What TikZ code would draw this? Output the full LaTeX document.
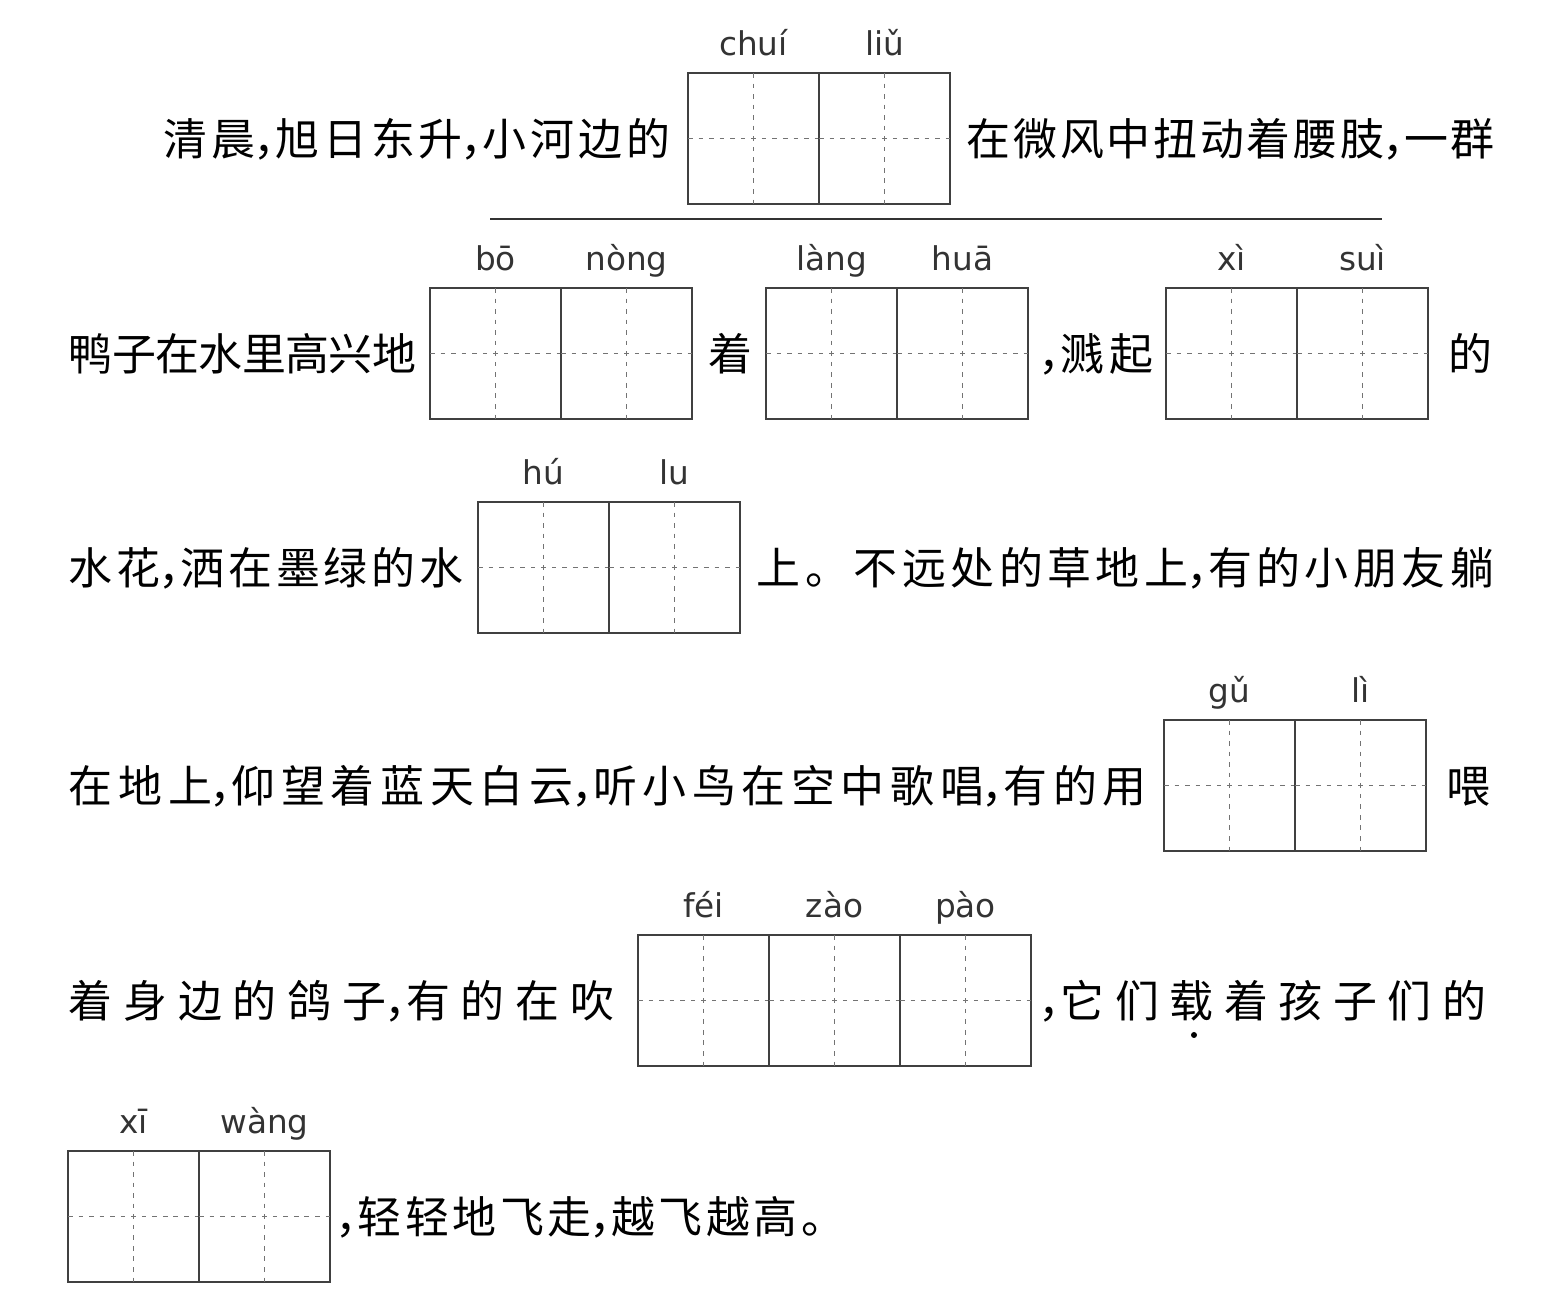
\documentclass[tikz,border=0pt]{standalone}
\usepackage{fontspec}
\newfontfamily\cjk{Noto Sans CJK SC}
\newfontfamily\pyfont{DejaVu Sans}
\newcommand\dou{\kern-.05em，\kern-.5em}
\begin{document}
\begin{tikzpicture}[x=0.01cm,y=-0.01cm,line width=0.5pt,
	hz/.style={font=\cjk\fontsize{12.5pt}{15pt}\selectfont\addfontfeature{LetterSpace=#1},inner sep=0pt,anchor=base west},
	hz/.default=0,
	py/.style={font=\pyfont\fontsize{9.3pt}{11pt}\selectfont,text=black!80,inner sep=0pt,anchor=base},
	frame/.style={draw=black!75,line width=0.5pt},
	guide/.style={draw=black!55,line width=0.4pt,dash pattern=on 1.3pt off 1.7pt}]
	\useasboundingbox (0,0) rectangle (1553,1298);
	\foreach \bx/\by/\syl [count=\b] in {688/73/{chuí,liǔ},430/288/{bō,nòng},766/288/{làng,huā},1166/288/{xì,suì},478/502/{hú,lu},1164/720/{gǔ,lì},638/935/{féi,zào,pào},68/1151/{xī,wàng}}{
		\foreach \s [count=\k] in \syl {
			\draw[frame] ({\bx+(\k-1)*131},\by) rectangle ++(131,131);
			\draw[guide] ({\bx+(\k-1)*131+65.5},\by) -- ++(0,131);
			\draw[guide] ({\bx+(\k-1)*131},{\by+65.5}) -- ++(131,0);
			\node[py] (p\b-\k) at ({\bx+(\k-1)*131+65.5},{\by-17}) {\s};
		}
	}
	\node[hz=8.8] (r1a) at (163,156) {清晨\dou 旭日东升\dou 小河边的};
	\node[hz=6.2] (r1b) at (966,156) {在微风中扭动着腰肢\dou 一群};
	\draw[black!80,line width=0.5pt] (490,219) -- (1382,219);
	\node[hz=-1.4] (r2a) at (68,371) {鸭子在水里高兴地};
	\node[hz] (r2b) at (708,371) {着};
	\node[hz=11] (r2c) at (1040,371) {\dou 溅起};
	\node[hz] (r2d) at (1448,371) {的};
	\node[hz=8.8] (r3a) at (68,585) {水花\dou 洒在墨绿的水};
	\node[hz=10.2] (r3b) at (756,585) {上。不远处的草地上\dou 有的小朋友躺};
	\node[hz=12.8] (r4a) at (68,803) {在地上\dou 仰望着蓝天白云\dou 听小鸟在空中歌唱\dou 有的用};
	\node[hz] (r4b) at (1446,803) {喂};
	\node[hz=24.4] (r5a) at (68,1018) {着身边的鸽子\dou 有的在吹};
	\node[hz=24] (r5b) at (1040,1018) {\dou 它们载着孩子们的};
	\fill (1194,1035) circle (3);
	\node[hz=8] (r6a) at (337,1234) {\dou 轻轻地飞走\dou 越飞越高。};
\end{tikzpicture}
\end{document}
